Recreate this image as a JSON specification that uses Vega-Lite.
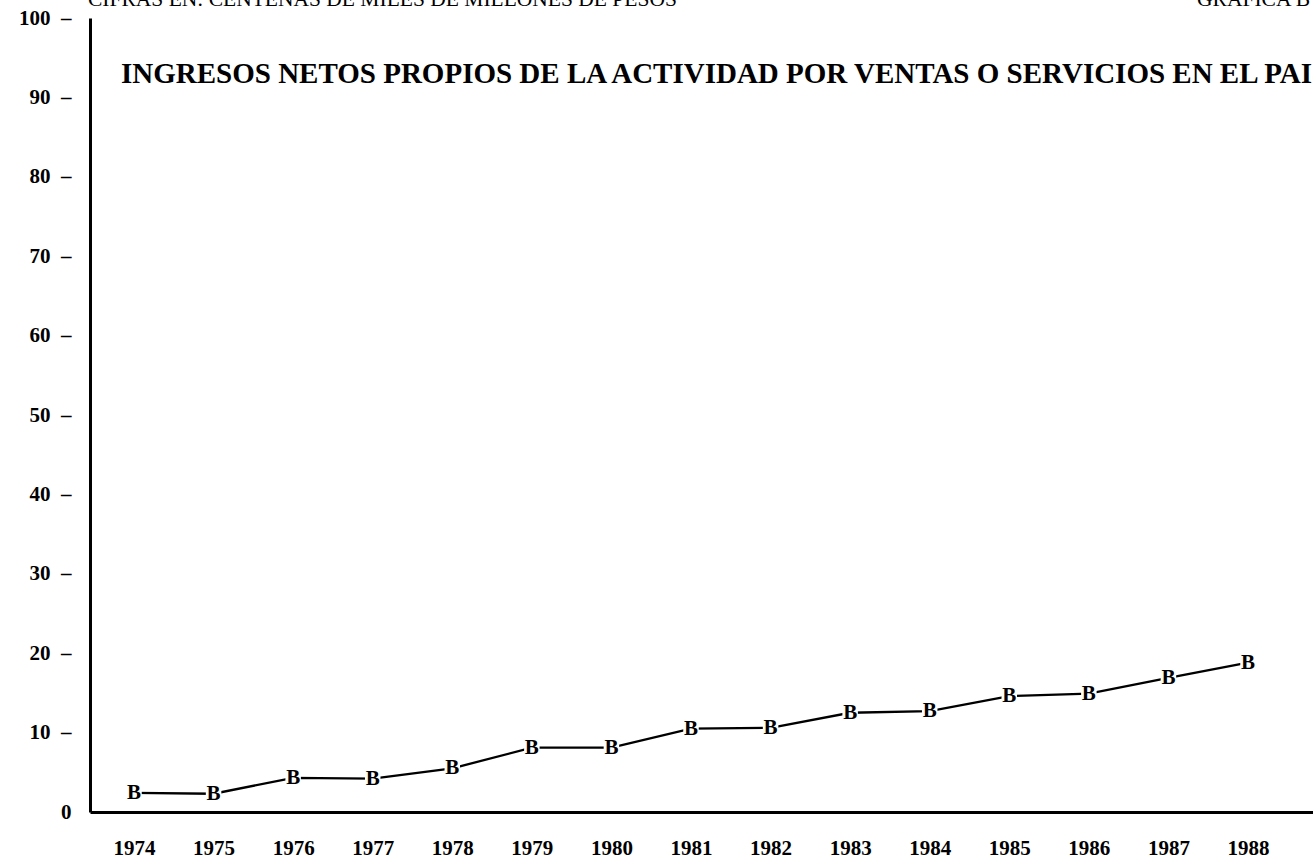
{
  "$schema": "https://vega.github.io/schema/vega-lite/v6.json",
  "width": 1223,
  "height": 794,
  "autosize": {"type": "none"},
  "padding": {"left": 90, "top": 18, "right": 0, "bottom": 47},
  "background": "white",
  "config": {
    "view": {"stroke": null},
    "font": "Liberation Serif",
    "axis": {"grid": false, "ticks": false, "title": null, "domainColor": "black", "domainWidth": 3, "labelColor": "black", "labelFont": "Liberation Serif", "labelFontWeight": "bold"}
  },
  "layer": [
    {
      "data": {
        "values": [
          {"year": 1974, "value": 2.4},
          {"year": 1975, "value": 2.3},
          {"year": 1976, "value": 4.3},
          {"year": 1977, "value": 4.2},
          {"year": 1978, "value": 5.5},
          {"year": 1979, "value": 8.1},
          {"year": 1980, "value": 8.1},
          {"year": 1981, "value": 10.5},
          {"year": 1982, "value": 10.6},
          {"year": 1983, "value": 12.5},
          {"year": 1984, "value": 12.7},
          {"year": 1985, "value": 14.6},
          {"year": 1986, "value": 14.9},
          {"year": 1987, "value": 16.9},
          {"year": 1988, "value": 18.8}
        ]
      },
      "encoding": {
        "x": {
          "field": "year",
          "type": "quantitative",
          "scale": {"domain": [1973.447, 1988.817], "nice": false, "zero": false},
          "axis": {
            "values": [1974, 1975, 1976, 1977, 1978, 1979, 1980, 1981, 1982, 1983, 1984, 1985, 1986, 1987, 1988],
            "format": "d",
            "labelFontSize": 21,
            "labelPadding": 25,
            "labelFlush": false,
            "labelOverlap": false
          }
        },
        "y": {
          "field": "value",
          "type": "quantitative",
          "scale": {"domain": [0, 100], "nice": false},
          "axis": {
            "values": [0, 10, 20, 30, 40, 50, 60, 70, 80, 90, 100],
            "labelExpr": "datum.value == 0 ? '0' : datum.label + '\u2002\u2013'",
            "labelFontSize": 21,
            "labelPadding": 19,
            "labelFlush": false,
            "labelOverlap": false
          }
        }
      },
      "layer": [
        {"mark": {"type": "line", "color": "black", "strokeWidth": 2.3}},
        {"mark": {"type": "point", "shape": "square", "filled": true, "color": "white", "opacity": 1, "size": 240, "strokeWidth": 0}},
        {"mark": {"type": "text", "text": "B", "fontWeight": "bold", "fontSize": 21, "color": "black", "baseline": "middle", "align": "center"}}
      ]
    },
    {
      "data": {"values": [{"note": "INGRESOS NETOS PROPIOS DE LA ACTIVIDAD POR VENTAS O SERVICIOS EN EL PAIS"}]},
      "mark": {"type": "text", "fontWeight": "bold", "fontSize": 29, "color": "black", "align": "left", "baseline": "alphabetic"},
      "encoding": {"x": {"datum": 1973.837, "type": "quantitative"}, "y": {"datum": 91.8, "type": "quantitative"}, "text": {"field": "note"}}
    },
    {
      "data": {"values": [{"note": "CIFRAS EN: CENTENAS DE MILES DE MILLONES DE PESOS"}]},
      "mark": {"type": "text", "fontSize": 21.5, "color": "black", "align": "left", "baseline": "alphabetic"},
      "encoding": {"x": {"datum": 1973.422, "type": "quantitative"}, "y": {"datum": 101.5, "type": "quantitative"}, "text": {"field": "note"}}
    },
    {
      "data": {"values": [{"note": "GRAFICA B"}]},
      "mark": {"type": "text", "fontSize": 21.5, "color": "black", "align": "left", "baseline": "alphabetic"},
      "encoding": {"x": {"datum": 1987.36, "type": "quantitative"}, "y": {"datum": 101.5, "type": "quantitative"}, "text": {"field": "note"}}
    }
  ]
}
